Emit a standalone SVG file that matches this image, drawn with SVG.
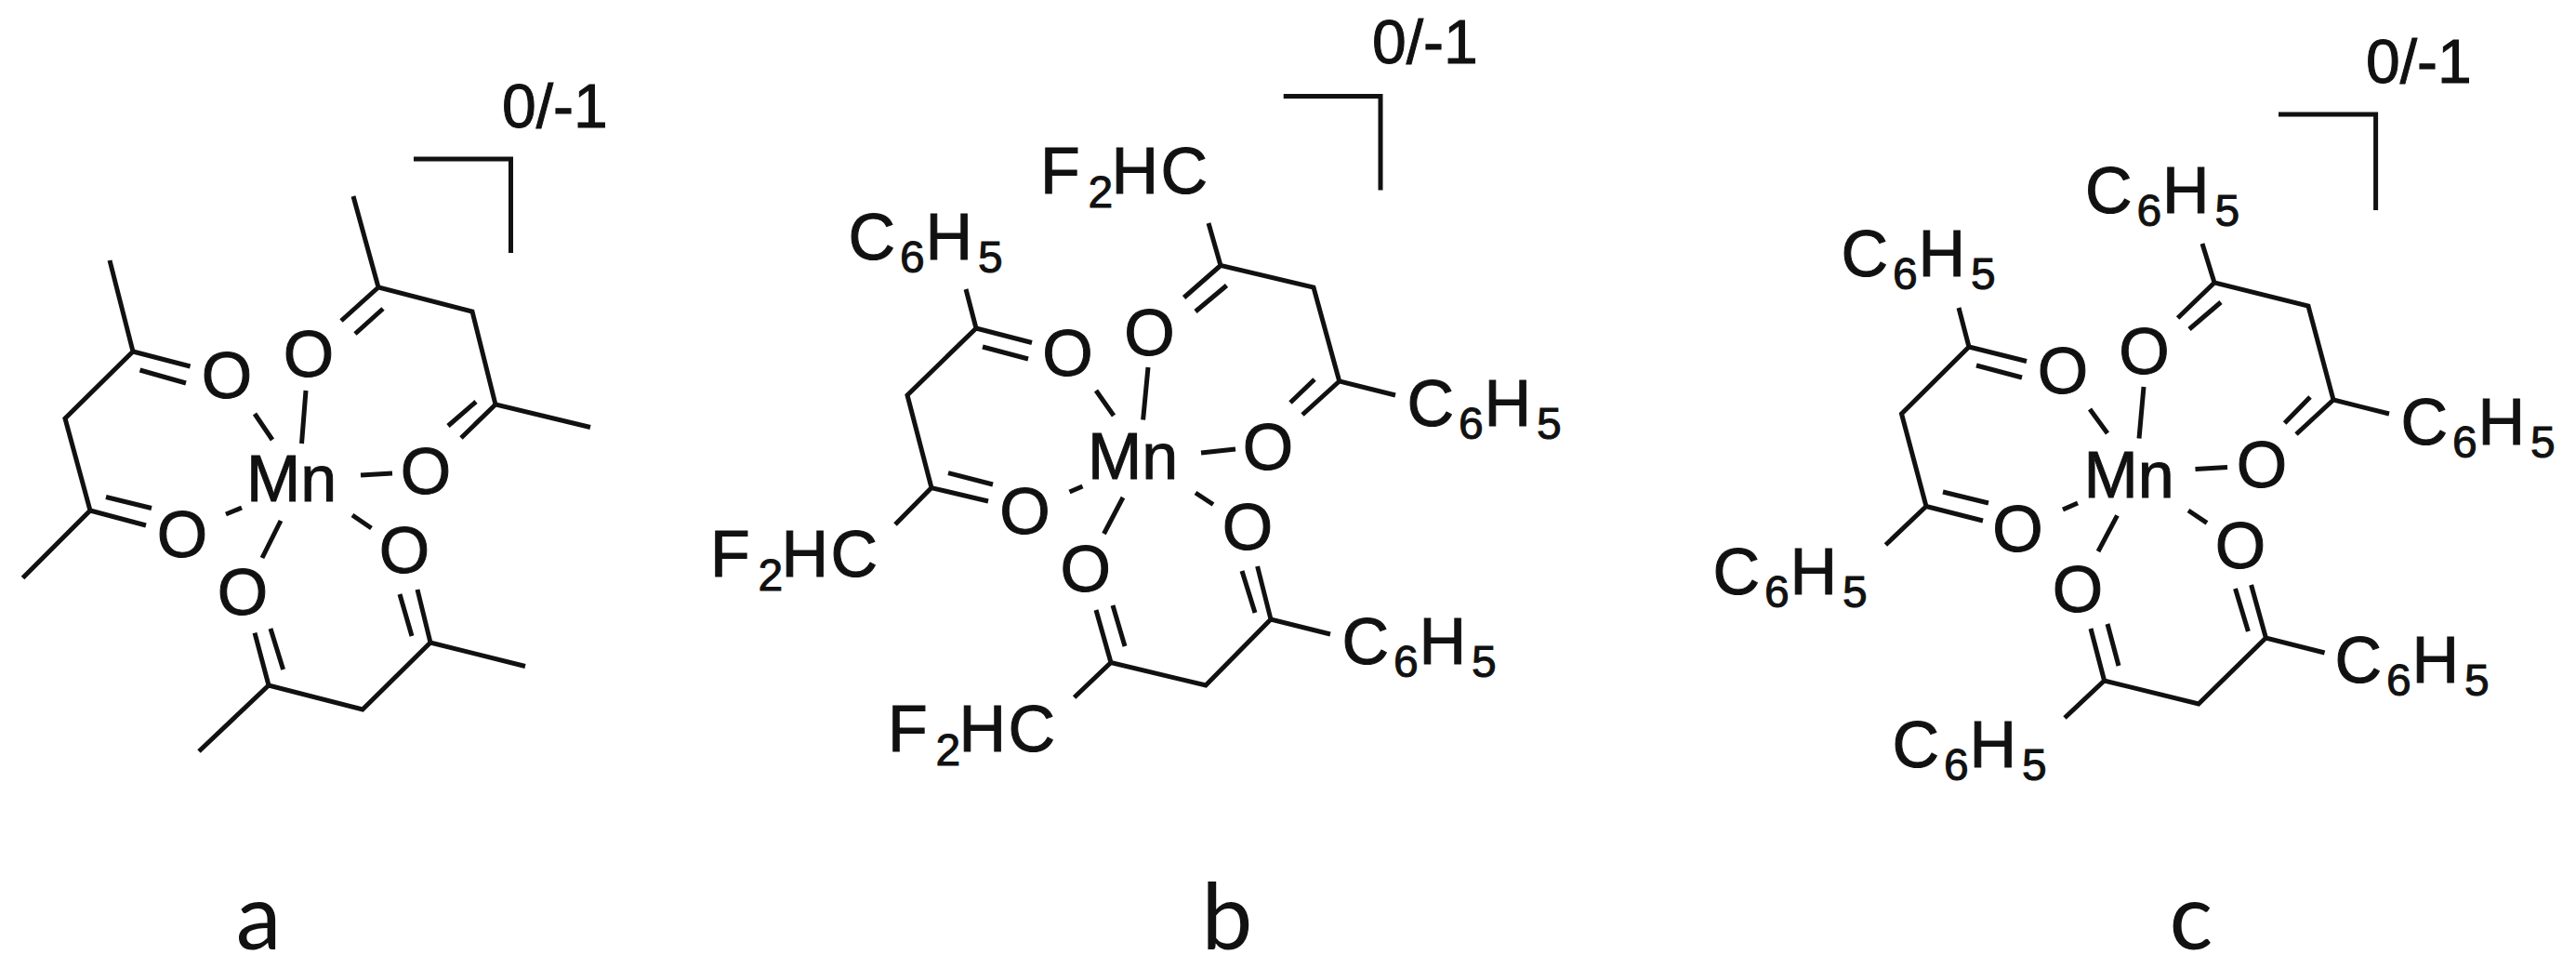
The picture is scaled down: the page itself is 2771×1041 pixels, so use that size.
<svg xmlns="http://www.w3.org/2000/svg" width="2771" height="1041" viewBox="0 0 2771 1041">
<style>
text{font-family:"Liberation Sans",Arial,sans-serif;font-size:70px;fill:#111;stroke:#111;stroke-width:1}
.o{text-anchor:middle}
.s{font-size:48px}
.q{font-size:66px}
.l{font-family:Lato,"Open Sans",sans-serif;font-size:98px;text-anchor:middle;stroke-width:0}
#connectors path{fill:none;stroke:#111;stroke-width:5;stroke-linejoin:miter}
</style>
<rect width="2771" height="1041" fill="#fff"/>
<g id="connectors">
<path id="a-bonds" d="M445 171H549.5V272M380 211L407 309L508 335L533 435L635 459.5M407 309L367 345M412 332L382 359M533 435L496 471M512 432L482 458M118 280L143 378L70 450L97 549L24.5 621.5M143 378L204.6 394M150.5 398L200 412M97 549L157 565M114 534.5L163 546.5M214 808L289 737L390 763L463 691L565 716.5M289 737L274 680.6M304.6 720L291 676M463 691L449 634M443 684L430 639M274 445L293 473M329 420L324.5 477M388 511L422 509M379 554L399.5 568M302 560L282 600M260 546L243 553"/>
<path id="b-bonds" d="M1380.7 103.6H1485V204.5M1300 240L1313 285.5L1413 309L1440.7 410L1501 425M1313 285.5L1273.6 320M1319.5 307L1286 335M1440.7 410L1401 446M1414 408L1388 433M1039 311L1050 353L976 425L1002 524.6L963 564M1050 353L1110 368.5M1057 373L1106 386M1002 524.6L1063 539M1020 508.6L1068 521M1155.6 750L1195 712.5L1297 737L1367 666L1431 682M1195 712.5L1179 656M1210 695L1197 651M1367 666L1352.6 609M1350 659L1336 614M1179 420L1198 447M1235 395L1229.6 451.5M1292 487L1329 483M1286 530L1305 542.5M1208 535L1187.5 574M1164.5 523L1150.5 529"/>
<path id="c-bonds" d="M2451 123H2555.6V226M2369 262L2382 304L2483 329L2510 430L2570 445M2382 304L2342.6 342M2389 325L2355 354M2510 430L2470 467M2485 427L2457.6 455M2107 331L2118 373L2045.5 445L2072 544.5L2028.4 586M2118 373L2180 388.5M2126 393L2175 406M2072 544.5L2133 560M2090 529L2139 541M2221 772L2263.6 732L2365 757L2437.4 686L2500.6 702M2263.6 732L2249 676M2279 716L2267 671M2437.4 686L2421.6 629M2418.4 679L2404.5 633M2248 440L2267 466M2306 416L2301 471.5M2361.5 504.6L2396 502.6M2354 549L2374 562.4M2277.5 554.4L2257 593M2235 541L2219 548"/>
</g>
<g id="a-charge"><text class="q" x="540" y="137">0/-1</text></g>
<g id="a-mn"><text x="265" y="539">Mn</text></g>
<g id="a-o1"><text class="o" x="332" y="405">O</text></g>
<g id="a-o2"><text class="o" x="244" y="428">O</text></g>
<g id="a-o3"><text class="o" x="196" y="599">O</text></g>
<g id="a-o4"><text class="o" x="458" y="531">O</text></g>
<g id="a-o5"><text class="o" x="435" y="616">O</text></g>
<g id="a-o6"><text class="o" x="261" y="661">O</text></g>
<g id="a-label"><text class="l" x="278" y="1021">a</text></g>

<g id="b-charge"><text class="q" x="1476" y="68">0/-1</text></g>
<g id="b-mn"><text x="1170" y="515">Mn</text></g>
<g id="b-o1"><text class="o" x="1236.6" y="382">O</text></g>
<g id="b-o2"><text class="o" x="1148.6" y="404">O</text></g>
<g id="b-o3"><text class="o" x="1102.6" y="574">O</text></g>
<g id="b-o4"><text class="o" x="1364" y="505">O</text></g>
<g id="b-o5"><text class="o" x="1342" y="591">O</text></g>
<g id="b-o6"><text class="o" x="1167.7" y="636">O</text></g>
<g id="b-r1"><text x="1119" y="208">F<tspan class="s" x="1170.5" y="223">2</tspan><tspan x="1195.5" y="208">H</tspan><tspan x="1248.5" y="208">C</tspan></text></g>
<g id="b-r2"><text x="1513.5" y="458">C<tspan class="s" x="1569" y="472">6</tspan><tspan x="1596.5" y="458">H</tspan><tspan class="s" x="1653" y="472">5</tspan></text></g>
<g id="b-r3"><text x="912.5" y="279">C<tspan class="s" x="968" y="293">6</tspan><tspan x="995.5" y="279">H</tspan><tspan class="s" x="1052" y="293">5</tspan></text></g>
<g id="b-r4"><text x="764" y="620">F<tspan class="s" x="815.5" y="635">2</tspan><tspan x="840.5" y="620">H</tspan><tspan x="893.5" y="620">C</tspan></text></g>
<g id="b-r5"><text x="955" y="808">F<tspan class="s" x="1006.5" y="823">2</tspan><tspan x="1031.5" y="808">H</tspan><tspan x="1084.5" y="808">C</tspan></text></g>
<g id="b-r6"><text x="1443.5" y="714">C<tspan class="s" x="1499" y="728">6</tspan><tspan x="1526.5" y="714">H</tspan><tspan class="s" x="1583" y="728">5</tspan></text></g>
<g id="b-label"><text class="l" x="1320" y="1021">b</text></g>

<g id="c-charge"><text class="q" x="2545" y="89">0/-1</text></g>
<g id="c-mn"><text x="2241.5" y="535">Mn</text></g>
<g id="c-o1"><text class="o" x="2306.5" y="402">O</text></g>
<g id="c-o2"><text class="o" x="2219" y="423">O</text></g>
<g id="c-o3"><text class="o" x="2170.6" y="593">O</text></g>
<g id="c-o4"><text class="o" x="2433" y="524">O</text></g>
<g id="c-o5"><text class="o" x="2410" y="611">O</text></g>
<g id="c-o6"><text class="o" x="2235" y="658">O</text></g>
<g id="c-r1"><text x="2243" y="229">C<tspan class="s" x="2298.5" y="243">6</tspan><tspan x="2326" y="229">H</tspan><tspan class="s" x="2382.5" y="243">5</tspan></text></g>
<g id="c-r2"><text x="2582.5" y="478">C<tspan class="s" x="2638" y="492">6</tspan><tspan x="2665.5" y="478">H</tspan><tspan class="s" x="2722" y="492">5</tspan></text></g>
<g id="c-r3"><text x="1980.5" y="297">C<tspan class="s" x="2036" y="311">6</tspan><tspan x="2063.5" y="297">H</tspan><tspan class="s" x="2120" y="311">5</tspan></text></g>
<g id="c-r4"><text x="1842.5" y="639">C<tspan class="s" x="1898" y="653">6</tspan><tspan x="1925.5" y="639">H</tspan><tspan class="s" x="1982" y="653">5</tspan></text></g>
<g id="c-r5"><text x="2035.5" y="825">C<tspan class="s" x="2091" y="839">6</tspan><tspan x="2118.5" y="825">H</tspan><tspan class="s" x="2175" y="839">5</tspan></text></g>
<g id="c-r6"><text x="2511.5" y="734">C<tspan class="s" x="2567" y="748">6</tspan><tspan x="2594.5" y="734">H</tspan><tspan class="s" x="2651" y="748">5</tspan></text></g>
<g id="c-label"><text class="l" x="2357" y="1021">c</text></g>
</svg>
